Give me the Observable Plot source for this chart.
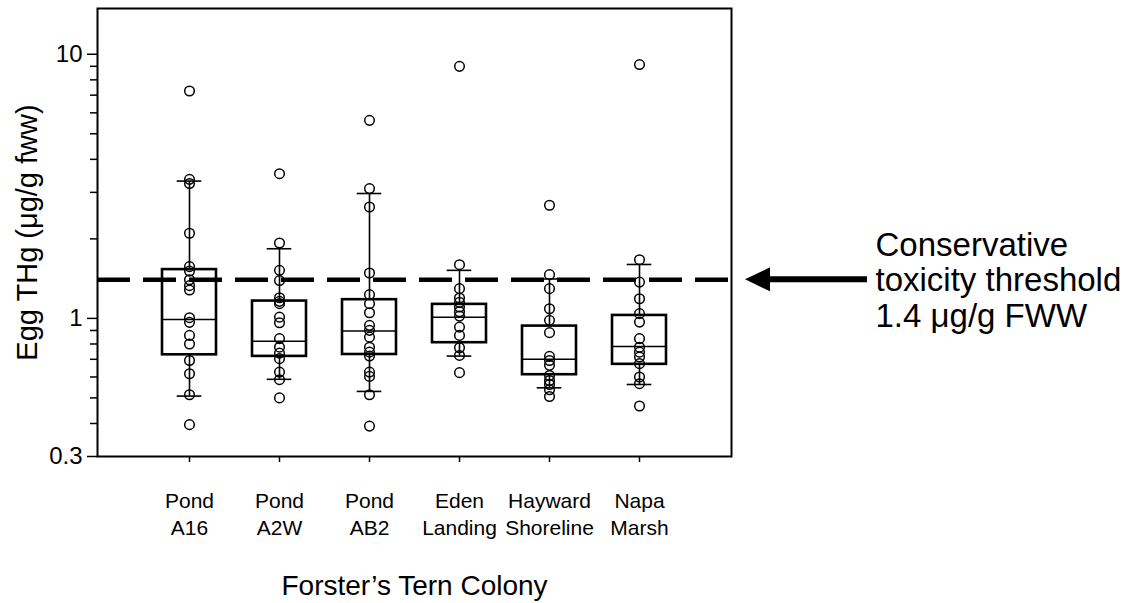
<!DOCTYPE html>
<html>
<head>
<meta charset="utf-8">
<script src="https://cdn.jsdelivr.net/npm/d3@7"></script>
<script src="https://cdn.jsdelivr.net/npm/@observablehq/plot@0.6"></script>
<style>
  html, body { margin: 0; padding: 0; background: white; }
  #chart svg { display: block; }
</style>
</head>
<body>
<div id="chart"></div>
<script>
// ---- Data ----
const categories = ["Pond\nA16", "Pond\nA2W", "Pond\nAB2", "Eden\nLanding", "Hayward\nShoreline", "Napa\nMarsh"];

const pondA16 = [7.26, 3.36, 3.24, 2.10, 1.57, 1.51, 1.40, 1.33, 1.28, 1.006, 0.966, 0.862, 0.80, 0.693, 0.617, 0.514, 0.396];
const pondA2W = [3.53, 1.93, 1.52, 1.39, 1.197, 1.16, 1.137, 1.011, 0.963, 0.838, 0.778, 0.739, 0.704, 0.626, 0.586, 0.50];
const pondAB2 = [5.62, 3.10, 2.64, 1.485, 1.23, 1.137, 1.05, 0.941, 0.901, 0.849, 0.778, 0.745, 0.72, 0.626, 0.603, 0.514, 0.391];
const edenLanding = [9.0, 1.597, 1.296, 1.194, 1.15, 1.104, 1.06, 1.02, 0.927, 0.862, 0.774, 0.724, 0.623];
const haywardShoreline = [2.68, 1.464, 1.296, 1.088, 0.983, 0.883, 0.718, 0.693, 0.664, 0.608, 0.582, 0.562, 0.537, 0.506];
const napaMarsh = [9.14, 1.668, 1.372, 1.187, 1.042, 0.968, 0.838, 0.778, 0.745, 0.714, 0.674, 0.60, 0.566, 0.466];
const seriesValues = [pondA16, pondA2W, pondAB2, edenLanding, haywardShoreline, napaMarsh];

// box statistics: 10th pct, 25th, median, 75th, 90th
const whiskerLow = [0.508, 0.588, 0.529, 0.72, 0.546, 0.562];
const quartile1  = [0.728, 0.718, 0.73, 0.809, 0.612, 0.67];
const medians    = [0.99, 0.82, 0.895, 1.011, 0.701, 0.783];
const quartile3  = [1.53, 1.163, 1.177, 1.13, 0.935, 1.026];
const whiskerHigh = [3.31, 1.835, 2.97, 1.52, 1.41, 1.60];

const threshold = 1.4;
const majorTicks = [0.3, 1, 10];
const minorTicks = [0.4, 0.5, 0.6, 0.7, 0.8, 0.9, 2, 3, 4, 5, 6, 7, 8, 9];

const yTitle = "Egg THg (μg/g fww)";
const xTitle = "Forster’s Tern Colony";
const annotationText = "Conservative\ntoxicity threshold\n1.4 μg/g FWW";

// ---- Tables built from the arrays ----
const points = categories.flatMap((c, i) => seriesValues[i].map(v => ({group: c, value: v})));
const stats = categories.map((c, i) => ({
  group: c, lo: whiskerLow[i], q1: quartile1[i], med: medians[i], q3: quartile3[i], hi: whiskerHigh[i]
}));

const capInset = 14.7;

// arrow pointing at the threshold line, drawn just right of the frame
function thresholdArrow(index, scales, values, dims) {
  const y = scales.y(threshold);
  const xr = dims.width - dims.marginRight;
  const tip = xr + 14, base = xr + 39, end = xr + 136, hh = 12, st = 3;
  const path = `M${tip},${y} L${base},${y - hh} L${base},${y - st} L${end},${y - st} L${end},${y + st} L${base},${y + st} L${base},${y + hh} Z`;
  const g = d3.create("svg:g");
  g.append("path").attr("d", path).attr("fill", "black");
  return g.node();
}

const chart = Plot.plot({
  width: 1133,
  height: 603,
  marginLeft: 97,
  marginRight: 402,
  marginTop: 8,
  marginBottom: 147,
  style: {fontFamily: "'Liberation Sans', Arial, sans-serif", color: "black", background: "white", overflow: "visible"},
  x: {type: "band", domain: categories, paddingInner: 0.4, paddingOuter: 0.7, axis: null},
  y: {type: "log", domain: [0.3, 14.9], axis: null},
  marks: [
    // threshold
    Plot.ruleY([threshold], {stroke: "black", strokeWidth: 4.5, strokeDasharray: "33,13"}),
    // boxes
    Plot.barY(stats, {x: "group", y1: "q1", y2: "q3", fill: "none", stroke: "black", strokeWidth: 2.6}),
    Plot.tickY(stats, {x: "group", y: "med", stroke: "black", strokeWidth: 1.5}),
    // whiskers
    Plot.ruleX(stats, {x: "group", y1: "q3", y2: "hi", stroke: "black", strokeWidth: 1.6}),
    Plot.ruleX(stats, {x: "group", y1: "lo", y2: "q1", stroke: "black", strokeWidth: 1.6}),
    Plot.tickY(stats, {x: "group", y: "hi", stroke: "black", strokeWidth: 1.6, insetLeft: capInset, insetRight: capInset}),
    Plot.tickY(stats, {x: "group", y: "lo", stroke: "black", strokeWidth: 1.6, insetLeft: capInset, insetRight: capInset}),
    // points
    Plot.dot(points, {x: "group", y: "value", r: 4.8, fill: "none", stroke: "black", strokeWidth: 1.5}),
    // frame
    Plot.frame({stroke: "black", strokeWidth: 2}),
    // y axis
    Plot.axisY({ticks: majorTicks, tickSize: 10, tickPadding: 5, tickFormat: d => String(d), fontSize: 24, strokeWidth: 1.5, label: null}),
    Plot.axisY({ticks: minorTicks, tickSize: 7, tickFormat: () => "", strokeWidth: 1.5, label: null}),
    Plot.text([yTitle], {frameAnchor: "left", dx: -70, rotate: -90, fontSize: 29, textAnchor: "middle", lineAnchor: "middle"}),
    // x axis
    Plot.axisX({tickSize: 6, tickFormat: () => "", strokeWidth: 1.5, label: null}),
    Plot.text(categories, {x: d => d, frameAnchor: "bottom", dy: 32, lineAnchor: "top", fontSize: 21, lineHeight: 1.29}),
    Plot.text([xTitle], {frameAnchor: "bottom", dy: 130, fontSize: 28, lineAnchor: "middle"}),
    // annotation
    thresholdArrow,
    Plot.text([threshold], {y: d => d, frameAnchor: "right", dx: 144, text: () => annotationText, textAnchor: "start", lineAnchor: "middle", fontSize: 33, lineHeight: 1.08})
  ]
});

document.getElementById("chart").appendChild(chart);
</script>
</body>
</html>
